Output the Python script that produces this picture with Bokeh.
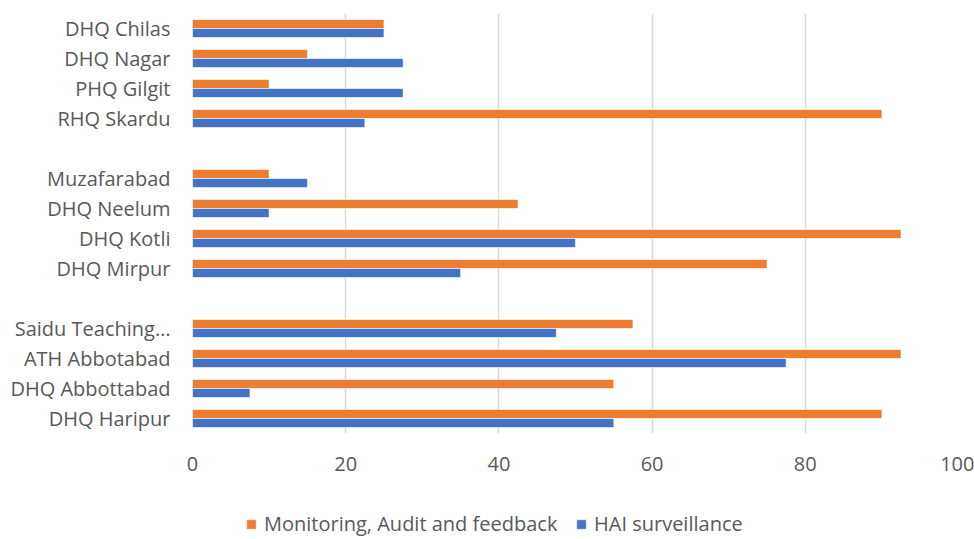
from bokeh.plotting import figure
from bokeh.layouts import column
from bokeh.models import FactorRange, ColumnDataSource, Legend, LegendItem, FixedTicker
from bokeh.transform import dodge
from bokeh.embed import file_html
from bokeh.resources import INLINE

# Axis order bottom -> top, blanks are the gaps between regions
axis_factors = ["DHQ Haripur", "DHQ Abbottabad", "ATH Abbotabad", "Saidu Teaching…", " ",
                "DHQ Mirpur", "DHQ Kotli", "DHQ Neelum", "Muzafarabad", "  ",
                "RHQ Skardu", "PHQ Gilgit", "DHQ Nagar", "DHQ Chilas"]

hospitals = ["DHQ Haripur", "DHQ Abbottabad", "ATH Abbotabad", "Saidu Teaching…",
             "DHQ Mirpur", "DHQ Kotli", "DHQ Neelum", "Muzafarabad",
             "RHQ Skardu", "PHQ Gilgit", "DHQ Nagar", "DHQ Chilas"]
monitoring = [90, 55, 92.5, 57.5, 75, 92.5, 42.5, 10, 90, 10, 15, 25]
surveillance = [55, 7.5, 77.5, 47.5, 35, 50, 10, 15, 22.5, 27.5, 27.5, 25]
x_ticks = [0, 20, 40, 60, 80, 100]
series_names = ["Monitoring, Audit and feedback", "HAI surveillance"]

FONT = "Open Sans"
TXT = "#595959"
ORANGE = "#ED7D31"
BLUE = "#4472C4"

src = ColumnDataSource(dict(cat=hospitals, mon=monitoring, hai=surveillance))

# ---- main chart ----
p = figure(width=974, height=500, output_backend="svg", toolbar_location=None,
           y_range=FactorRange(factors=axis_factors), x_range=(0, 100),
           min_border_left=192, min_border_right=16, min_border_top=13, min_border_bottom=67)
p.outline_line_color = None

p.hbar(y=dodge("cat", 0.15, range=p.y_range), right="mon", left=0, height=0.3,
       source=src, fill_color=ORANGE, line_color="white", line_alpha=0.6, line_width=1)
p.hbar(y=dodge("cat", -0.15, range=p.y_range), right="hai", left=0, height=0.3,
       source=src, fill_color=BLUE, line_color="white", line_alpha=0.6, line_width=1)

p.xaxis.ticker = FixedTicker(ticks=x_ticks)
p.xaxis.axis_line_color = None
p.xaxis.major_tick_line_color = None
p.xaxis.minor_tick_line_color = None
p.xaxis.major_tick_out = 0
p.xaxis.minor_tick_out = 0
p.xaxis.major_label_standoff = 23
p.xaxis.major_label_text_font = FONT
p.xaxis.major_label_text_font_size = "20px"
p.xaxis.major_label_text_color = TXT

p.yaxis.axis_line_color = None
p.yaxis.major_tick_line_color = None
p.yaxis.minor_tick_line_color = None
p.yaxis.major_tick_out = 0
p.yaxis.minor_tick_out = 0
p.yaxis.major_label_standoff = 22
p.yaxis.major_label_text_font = FONT
p.yaxis.major_label_text_font_size = "20px"
p.yaxis.major_label_text_color = TXT

p.xgrid.grid_line_color = "#d9d9d9"
p.xgrid.grid_line_width = 1.5
p.ygrid.grid_line_color = None

# ---- legend strip ----
lg = figure(width=974, height=39, output_backend="svg", toolbar_location=None,
            x_axis_location=None, y_axis_location=None,
            y_range=FactorRange(factors=axis_factors), x_range=(0, 100),
            min_border=0)
lg.outline_line_color = None
lg.grid.grid_line_color = None
k_mon = lg.hbar(y="cat", right="mon", left=0, height=0.3, source=src,
                fill_color=ORANGE, line_color="white", line_alpha=0.6, visible=False)
k_hai = lg.hbar(y="cat", right="hai", left=0, height=0.3, source=src,
                fill_color=BLUE, line_color="white", line_alpha=0.6, visible=False)

legend = Legend(items=[LegendItem(label=series_names[0], renderers=[k_mon]),
                       LegendItem(label=series_names[1], renderers=[k_hai])],
                orientation="horizontal", location=(53, 2),
                padding=0, margin=0, spacing=0, label_standoff=7, label_width=311,
                glyph_width=12, glyph_height=12,
                inactive_fill_alpha=0,
                label_text_font=FONT, label_text_font_size="20px", label_text_color=TXT,
                background_fill_alpha=0, border_line_color=None)
lg.add_layout(legend, "center")

open("out.html", "w").write(file_html(column(p, lg, spacing=0), INLINE))
